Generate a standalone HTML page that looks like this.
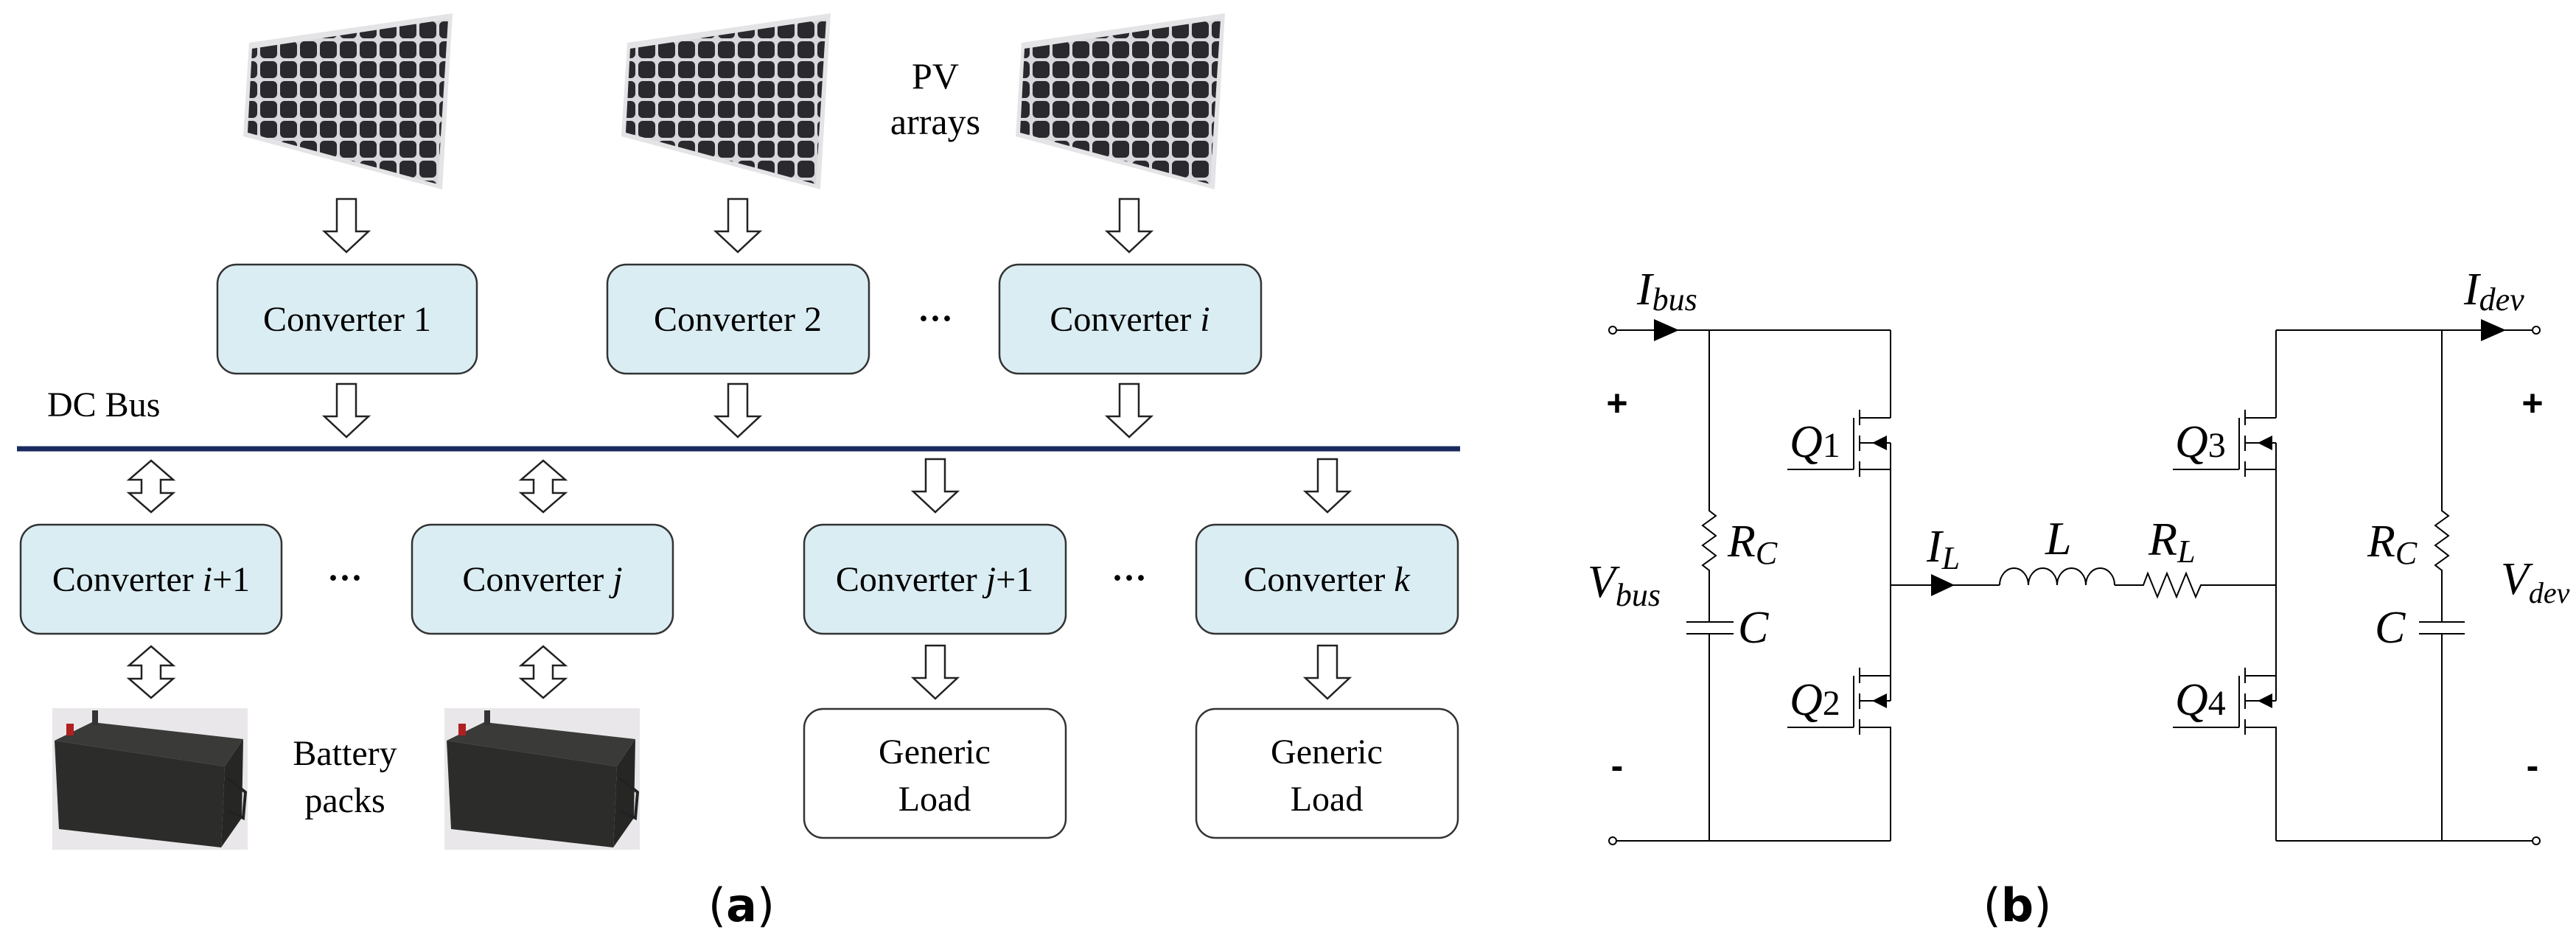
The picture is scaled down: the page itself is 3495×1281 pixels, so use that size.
<!DOCTYPE html>
<html><head><meta charset="utf-8"><style>
html,body{margin:0;padding:0;background:#fff}
svg{display:block}
.t{font-family:"Liberation Serif",serif;fill:#000}
</style></head><body>
<svg width="3495" height="1281" viewBox="0 0 3495 1281" xmlns="http://www.w3.org/2000/svg">
<defs>
<path id="da" d="M-13,0 H13 V44 H30 L0,72 L-30,44 H-13 Z" fill="#fff" stroke="#222" stroke-width="2.5"/>
<path id="dd" d="M0,0 L30,26 H13 V44 H30 L0,70 L-30,44 H-13 V26 H-30 Z" fill="#fff" stroke="#222" stroke-width="2.5"/>
<pattern id="cells" width="27" height="27" patternUnits="userSpaceOnUse">
<rect width="27" height="27" fill="#d8d8dc"/><rect x="2" y="2" width="23" height="23" rx="6" fill="#2a2a2e"/>
</pattern>
<g id="panel">
<polygon points="338,58 614,18 600,257 330,185" fill="#e4e4e6"/>
<polygon points="342,66 608,26 594,250 336,180" fill="url(#cells)"/>
</g>
<g id="batt">
<rect x="71" y="961" width="265" height="192" fill="#e9e7e9"/>
<polygon points="74,1005 125,980 330,1003 305,1040" fill="#3a3a38"/>
<polygon points="74,1005 305,1040 300,1150 80,1125" fill="#2c2c2a"/>
<polygon points="305,1040 330,1003 328,1110 300,1150" fill="#262624"/>
<rect x="90" y="982" width="10" height="16" fill="#b02020"/>
<rect x="125" y="964" width="8" height="20" fill="#333"/>
<path d="M308,1055 L333,1075 L330,1110 L310,1100" fill="none" stroke="#222" stroke-width="4"/>
</g>
<g id="mos">
<line x1="2425" y1="637" x2="2515" y2="637"/>
<line x1="2515" y1="567" x2="2515" y2="637"/>
<line x1="2523" y1="556" x2="2523" y2="577"/>
<line x1="2523" y1="591" x2="2523" y2="612"/>
<line x1="2523" y1="626" x2="2523" y2="647"/>
<line x1="2523" y1="567" x2="2565" y2="567"/>
<line x1="2523" y1="601" x2="2565" y2="601"/>
<line x1="2523" y1="637" x2="2565" y2="637"/>
<polygon points="2540,601 2560,591 2560,611" fill="#000" stroke="none"/>
</g>
</defs>

<use href="#panel"/>
<use href="#panel" x="513"/>
<use href="#panel" x="1048"/>
<text class="t" x="1269" y="120" font-size="50" text-anchor="middle">PV</text>
<text class="t" x="1269" y="182" font-size="50" text-anchor="middle">arrays</text>

<use href="#da" x="470" y="270"/><use href="#da" x="1001" y="270"/><use href="#da" x="1532" y="270"/>

<g fill="#daedf3" stroke="#333" stroke-width="2.5">
<rect x="295" y="359" width="352" height="148" rx="26"/>
<rect x="824" y="359" width="355" height="148" rx="26"/>
<rect x="1356" y="359" width="355" height="148" rx="26"/>
<rect x="28" y="712" width="354" height="148" rx="26"/>
<rect x="559" y="712" width="354" height="148" rx="26"/>
<rect x="1091" y="712" width="355" height="148" rx="26"/>
<rect x="1623" y="712" width="355" height="148" rx="26"/>
</g>
<g fill="#fff" stroke="#333" stroke-width="2.5">
<rect x="1091" y="962" width="355" height="175" rx="26"/>
<rect x="1623" y="962" width="355" height="175" rx="26"/>
</g>
<g class="t" font-size="48" text-anchor="middle">
<text x="471" y="449">Converter 1</text>
<text x="1001" y="449">Converter 2</text>
<text x="1533" y="449">Converter <tspan font-style="italic">i</tspan></text>
<text x="205" y="802">Converter <tspan font-style="italic">i</tspan>+1</text>
<text x="736" y="802">Converter <tspan font-style="italic">j</tspan></text>
<text x="1268" y="802">Converter <tspan font-style="italic">j</tspan>+1</text>
<text x="1800" y="802">Converter <tspan font-style="italic">k</tspan></text>
<text x="1268" y="1036">Generic</text><text x="1268" y="1100">Load</text>
<text x="1800" y="1036">Generic</text><text x="1800" y="1100">Load</text>
<text x="468" y="1038">Battery</text><text x="468" y="1102">packs</text>
<text x="1269" y="448" font-weight="bold">···</text>
<text x="468" y="800" font-weight="bold">···</text>
<text x="1532" y="800" font-weight="bold">···</text>
</g>
<text class="t" x="64" y="565" font-size="48">DC Bus</text>

<use href="#da" x="470" y="521"/><use href="#da" x="1001" y="521"/><use href="#da" x="1532" y="521"/>
<line x1="23" y1="609" x2="1981" y2="609" stroke="#1b2a5e" stroke-width="7"/>

<use href="#dd" x="205" y="625"/><use href="#dd" x="737" y="625"/>
<use href="#da" x="1269" y="623"/><use href="#da" x="1801" y="623"/>
<use href="#dd" x="205" y="877"/><use href="#dd" x="737" y="877"/>
<use href="#da" x="1269" y="876"/><use href="#da" x="1801" y="876"/>

<use href="#batt"/>
<use href="#batt" x="532"/>

<text x="1006" y="1250" font-family="'DejaVu Sans',sans-serif" font-size="62" text-anchor="middle">(<tspan font-weight="bold">a</tspan>)</text>

<g stroke="#000" stroke-width="2" fill="none">
<circle cx="2188" cy="448" r="5" fill="#fff"/>
<circle cx="2188" cy="1141" r="5" fill="#fff"/>
<circle cx="3441" cy="448" r="5" fill="#fff"/>
<circle cx="3441" cy="1141" r="5" fill="#fff"/>
<line x1="2193" y1="448" x2="2565" y2="448"/>
<line x1="2193" y1="1141" x2="2565" y2="1141"/>
<line x1="3088" y1="448" x2="3436" y2="448"/>
<line x1="3088" y1="1141" x2="3436" y2="1141"/>
<polyline points="2319,448 2319,693 2328,700 2310,713 2328,727 2310,740 2328,754 2310,767 2319,774 2319,844"/>
<line x1="2288" y1="844" x2="2352" y2="844"/><line x1="2288" y1="860" x2="2352" y2="860"/>
<line x1="2319" y1="860" x2="2319" y2="1141"/>
<polyline points="3313,448 3313,693 3322,700 3304,713 3322,727 3304,740 3322,754 3304,767 3313,774 3313,844"/>
<line x1="3282" y1="844" x2="3344" y2="844"/><line x1="3282" y1="860" x2="3344" y2="860"/>
<line x1="3313" y1="860" x2="3313" y2="1141"/>
<line x1="2565" y1="448" x2="2565" y2="567"/>
<line x1="2565" y1="601" x2="2565" y2="951"/>
<line x1="2565" y1="986" x2="2565" y2="1141"/>
<line x1="3088" y1="448" x2="3088" y2="567"/>
<line x1="3088" y1="601" x2="3088" y2="951"/>
<line x1="3088" y1="986" x2="3088" y2="1141"/>
<use href="#mos"/>
<use href="#mos" y="350"/>
<use href="#mos" x="523"/>
<use href="#mos" x="523" y="350"/>
<line x1="2565" y1="794" x2="2713" y2="794"/>
<path d="M2713,794 A19.5,23 0 0 1 2752,794 A19.5,23 0 0 1 2791,794 A19.5,23 0 0 1 2830,794 A19.5,23 0 0 1 2869,794"/>
<polyline points="2869,794 2908,794 2914,778 2927,810 2940,778 2953,810 2966,778 2979,810 2986,794 3088,794"/>
</g>
<g fill="#000">
<polygon points="2244,433 2278,448 2244,463"/>
<polygon points="3366,433 3400,448 3366,463"/>
<polygon points="2620,779 2652,794 2620,809"/>
</g>
<g class="t" font-style="italic">
<text x="2221" y="413" font-size="62">I<tspan font-size="44" dy="8">bus</tspan></text>
<text x="3343" y="413" font-size="62">I<tspan font-size="44" dy="8">dev</tspan></text>
<text x="2154" y="810" font-size="62">V<tspan font-size="44" dy="12">bus</tspan></text>
<text x="3393" y="806" font-size="62">V<tspan font-size="40" dy="12">dev</tspan></text>
<text x="2344" y="755" font-size="62">R<tspan font-size="44" dy="10">C</tspan></text>
<text x="3212" y="755" font-size="62">R<tspan font-size="44" dy="10">C</tspan></text>
<text x="2358" y="872" font-size="62">C</text>
<text x="3222" y="872" font-size="62">C</text>
<text x="2614" y="762" font-size="62">I<tspan font-size="44" dy="10">L</tspan></text>
<text x="2775" y="752" font-size="64">L</text>
<text x="2915" y="753" font-size="64">R<tspan font-size="44" dy="10">L</tspan></text>
<text x="2428" y="620" font-size="62">Q<tspan font-size="48" font-style="normal">1</tspan></text>
<text x="2428" y="970" font-size="62">Q<tspan font-size="48" font-style="normal">2</tspan></text>
<text x="2951" y="620" font-size="62">Q<tspan font-size="48" font-style="normal">3</tspan></text>
<text x="2951" y="970" font-size="62">Q<tspan font-size="48" font-style="normal">4</tspan></text>
</g>
<g font-family="'Liberation Sans',sans-serif" font-size="50" font-weight="bold" text-anchor="middle">
<text x="2194" y="564">+</text><text x="3436" y="564">+</text>
<text x="2194" y="1056">-</text><text x="3436" y="1056">-</text>
</g>
<text x="2737" y="1250" font-family="'DejaVu Sans',sans-serif" font-size="62" text-anchor="middle">(<tspan font-weight="bold">b</tspan>)</text>
</svg>
</body></html>
